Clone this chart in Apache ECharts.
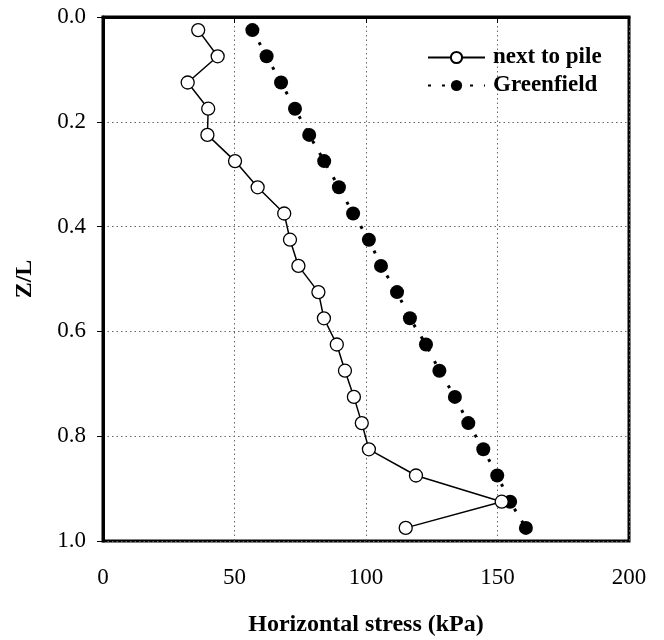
<!DOCTYPE html>
<html>
<head>
<meta charset="utf-8">
<script src="https://cdn.jsdelivr.net/npm/echarts@6/dist/echarts.min.js"></script>
<style>
  html, body { margin: 0; padding: 0; background: #fff; }
  #chart { width: 664px; height: 640px; }
</style>
</head>
<body>
<div id="chart"></div>
<script>
// Normalised depth Z/L of each measurement level
const depth = [0.025, 0.075, 0.125, 0.175, 0.225, 0.275, 0.325, 0.375, 0.425, 0.475,
               0.525, 0.575, 0.625, 0.675, 0.725, 0.775, 0.825, 0.875, 0.925, 0.975];
// Horizontal stress (kPa) next to the pile
const nextToPile = [36.2, 43.6, 32.2, 40.0, 39.7, 50.2, 58.8, 68.9, 71.1, 74.3,
                    81.9, 84.0, 88.9, 92.0, 95.4, 98.4, 101.1, 119.0, 151.6, 115.1];
// Horizontal stress (kPa) in greenfield conditions
const greenfield = [56.8, 62.2, 67.7, 73.0, 78.4, 84.1, 89.7, 95.1, 101.1, 105.7,
                    111.8, 116.7, 122.8, 127.9, 133.8, 138.9, 144.6, 149.9, 154.8, 160.8];
const xTicks = [0, 50, 100, 150, 200];
const yTicks = [0.0, 0.2, 0.4, 0.6, 0.8, 1.0];

const serif = 'Liberation Serif, Times New Roman, serif';
const pairs = vals => vals.map((v, i) => [v, depth[i]]);
const gridDots = { color: '#666', type: [1.5, 3], width: 1 };

const chart = echarts.init(document.getElementById('chart'));
chart.setOption({
  animation: false,
  backgroundColor: '#fff',
  grid: {
    left: 103, right: 35, top: 17, bottom: 99,
    outerBoundsMode: 'none',
    show: true, borderColor: '#000', borderWidth: 3, backgroundColor: 'transparent'
  },
  legend: {
    left: 422, top: 41,
    orient: 'vertical',
    itemWidth: 57, itemHeight: 14, itemGap: 5,
    textStyle: {
      fontFamily: serif, fontWeight: 'bold', fontSize: 23, color: '#000',
      padding: [0, 0, 0, 3]
    },
    data: ['next to pile', 'Greenfield']
  },
  xAxis: {
    type: 'value',
    min: xTicks[0], max: xTicks[xTicks.length - 1], interval: 50,
    name: 'Horizontal stress (kPa)',
    nameLocation: 'middle', nameGap: 72,
    nameTextStyle: { fontFamily: serif, fontWeight: 'bold', fontSize: 24, color: '#000' },
    axisLine: { show: true, lineStyle: { color: '#000', width: 3 } },
    axisTick: { show: true, inside: false, length: 6, lineStyle: { color: '#000', width: 1 } },
    axisLabel: { fontFamily: serif, fontSize: 23, color: '#000', margin: 25 },
    splitLine: { show: true, lineStyle: gridDots }
  },
  yAxis: {
    type: 'value', inverse: true,
    min: yTicks[0], max: yTicks[yTicks.length - 1], interval: 0.2,
    name: 'Z/L',
    nameLocation: 'middle', nameGap: 66, nameRotate: 90,
    nameTextStyle: { fontFamily: serif, fontWeight: 'bold', fontSize: 24, color: '#000' },
    axisLine: { show: true, lineStyle: { color: '#000', width: 3 } },
    axisTick: { show: true, inside: false, length: 6, lineStyle: { color: '#000', width: 1 } },
    axisLabel: {
      fontFamily: serif, fontSize: 23, color: '#000', margin: 17,
      formatter: v => v.toFixed(1)
    },
    splitLine: { show: true, lineStyle: gridDots }
  },
  series: [
    {
      name: 'next to pile',
      type: 'line',
      data: pairs(nextToPile),
      symbol: 'circle', symbolSize: 13,
      lineStyle: { color: '#000', width: 1.5 },
      itemStyle: { color: '#fff', borderColor: '#000', borderWidth: 1.3 },
      z: 3
    },
    {
      name: 'Greenfield',
      type: 'line',
      data: pairs(greenfield),
      symbol: 'circle', symbolSize: 14,
      lineStyle: { color: '#000', width: 3, type: [3, 11] },
      itemStyle: { color: '#000', borderColor: '#000', borderWidth: 0 },
      z: 2
    }
  ]
});
</script>
</body>
</html>
